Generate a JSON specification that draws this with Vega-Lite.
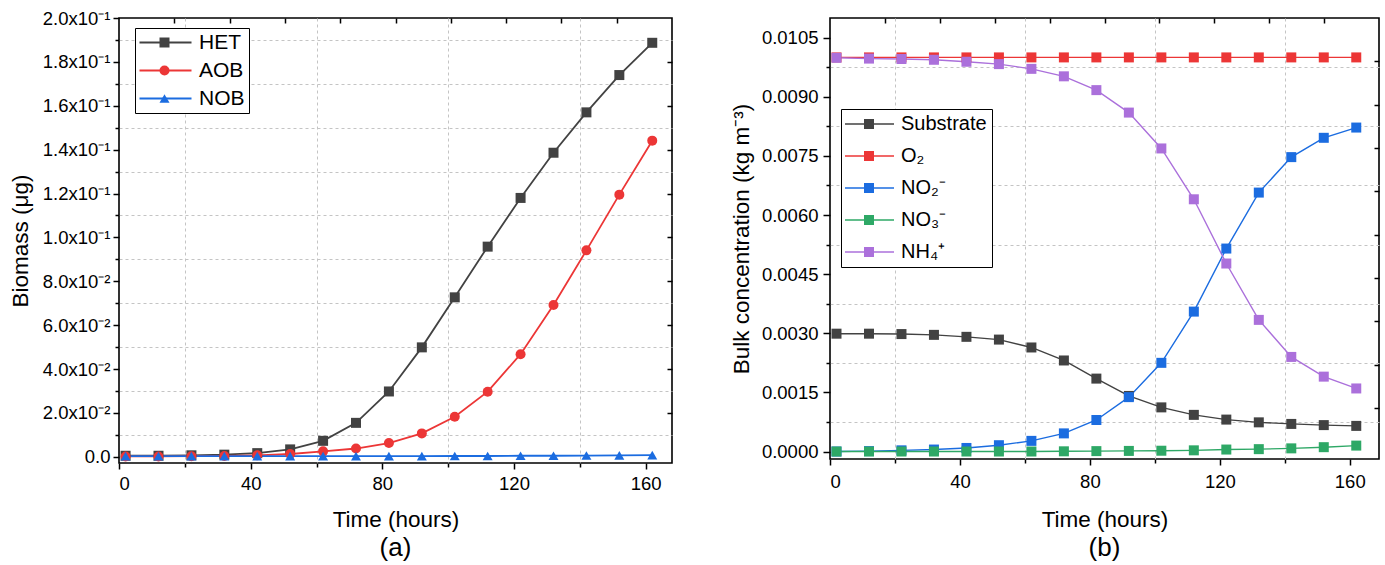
{
  "$schema": "https://vega.github.io/schema/vega-lite/v6.json",
  "padding": {"left": 8, "top": 8, "right": 0, "bottom": 0},
  "background": "white",
  "bounds": "flush",
  "spacing": 158,
  "resolve": {"scale": {"color": "independent", "shape": "independent", "size": "independent"}, "legend": {"color": "independent", "shape": "independent"}},
  "config": {
    "font": "Liberation Sans",
    "view": {"stroke": "black", "strokeWidth": 1.6},
    "axis": {"labelFont": "Liberation Sans", "titleFont": "Liberation Sans", "labelColor": "black", "titleColor": "black", "tickColor": "black", "tickWidth": 1.5, "domain": false, "grid": false, "titleFontWeight": "normal", "labelFontSize": 18.5, "titleFontSize": 22.5, "gridColor": "#c4c4c4", "gridDash": [3, 3], "gridWidth": 1},
    "legend": {"labelFont": "Liberation Sans", "labelColor": "black", "labelFontWeight": "normal"},
    "title": {"font": "Liberation Sans", "fontWeight": "normal", "color": "black"}
  },
  "datasets": {
    "bio": [
      {"s": "HET", "t": 2, "v": 0.0005}, {"s": "HET", "t": 12, "v": 0.0005}, {"s": "HET", "t": 22, "v": 0.0007}, {"s": "HET", "t": 32, "v": 0.001}, {"s": "HET", "t": 42, "v": 0.0017}, {"s": "HET", "t": 52, "v": 0.0034}, {"s": "HET", "t": 62, "v": 0.0073}, {"s": "HET", "t": 72, "v": 0.0155}, {"s": "HET", "t": 82, "v": 0.0298}, {"s": "HET", "t": 92, "v": 0.0499}, {"s": "HET", "t": 102, "v": 0.0727}, {"s": "HET", "t": 112, "v": 0.0958}, {"s": "HET", "t": 122, "v": 0.118}, {"s": "HET", "t": 132, "v": 0.1386}, {"s": "HET", "t": 142, "v": 0.157}, {"s": "HET", "t": 152, "v": 0.174}, {"s": "HET", "t": 162, "v": 0.1887},
      {"s": "AOB", "t": 2, "v": 0.0002}, {"s": "AOB", "t": 12, "v": 0.0002}, {"s": "AOB", "t": 22, "v": 0.0003}, {"s": "AOB", "t": 32, "v": 0.0004}, {"s": "AOB", "t": 42, "v": 0.0007}, {"s": "AOB", "t": 52, "v": 0.0013}, {"s": "AOB", "t": 62, "v": 0.0025}, {"s": "AOB", "t": 72, "v": 0.0038}, {"s": "AOB", "t": 82, "v": 0.0063}, {"s": "AOB", "t": 92, "v": 0.0107}, {"s": "AOB", "t": 102, "v": 0.0183}, {"s": "AOB", "t": 112, "v": 0.0297}, {"s": "AOB", "t": 122, "v": 0.0468}, {"s": "AOB", "t": 132, "v": 0.0692}, {"s": "AOB", "t": 142, "v": 0.0941}, {"s": "AOB", "t": 152, "v": 0.1195}, {"s": "AOB", "t": 162, "v": 0.1441},
      {"s": "NOB", "t": 2, "v": 0.0003}, {"s": "NOB", "t": 12, "v": 0.0003}, {"s": "NOB", "t": 22, "v": 0.0003}, {"s": "NOB", "t": 32, "v": 0.0003}, {"s": "NOB", "t": 42, "v": 0.0003}, {"s": "NOB", "t": 52, "v": 0.0003}, {"s": "NOB", "t": 62, "v": 0.0003}, {"s": "NOB", "t": 72, "v": 0.0003}, {"s": "NOB", "t": 82, "v": 0.0003}, {"s": "NOB", "t": 92, "v": 0.0003}, {"s": "NOB", "t": 102, "v": 0.0004}, {"s": "NOB", "t": 112, "v": 0.0004}, {"s": "NOB", "t": 122, "v": 0.0005}, {"s": "NOB", "t": 132, "v": 0.0005}, {"s": "NOB", "t": 142, "v": 0.0006}, {"s": "NOB", "t": 152, "v": 0.0007}, {"s": "NOB", "t": 162, "v": 0.0008}
    ],
    "bulk": [
      {"s": "Substrate", "t": 2, "v": 0.00299}, {"s": "Substrate", "t": 12, "v": 0.00299}, {"s": "Substrate", "t": 22, "v": 0.00298}, {"s": "Substrate", "t": 32, "v": 0.00296}, {"s": "Substrate", "t": 42, "v": 0.00291}, {"s": "Substrate", "t": 52, "v": 0.00284}, {"s": "Substrate", "t": 62, "v": 0.00264}, {"s": "Substrate", "t": 72, "v": 0.00231}, {"s": "Substrate", "t": 82, "v": 0.00185}, {"s": "Substrate", "t": 92, "v": 0.00141}, {"s": "Substrate", "t": 102, "v": 0.00112}, {"s": "Substrate", "t": 112, "v": 0.00093}, {"s": "Substrate", "t": 122, "v": 0.00081}, {"s": "Substrate", "t": 132, "v": 0.00074}, {"s": "Substrate", "t": 142, "v": 0.0007}, {"s": "Substrate", "t": 152, "v": 0.00067}, {"s": "Substrate", "t": 162, "v": 0.00065},
      {"s": "O₂", "t": 2, "v": 0.01}, {"s": "O₂", "t": 12, "v": 0.01}, {"s": "O₂", "t": 22, "v": 0.01}, {"s": "O₂", "t": 32, "v": 0.01}, {"s": "O₂", "t": 42, "v": 0.01}, {"s": "O₂", "t": 52, "v": 0.01}, {"s": "O₂", "t": 62, "v": 0.01}, {"s": "O₂", "t": 72, "v": 0.01}, {"s": "O₂", "t": 82, "v": 0.01}, {"s": "O₂", "t": 92, "v": 0.01}, {"s": "O₂", "t": 102, "v": 0.01}, {"s": "O₂", "t": 112, "v": 0.01}, {"s": "O₂", "t": 122, "v": 0.01}, {"s": "O₂", "t": 132, "v": 0.01}, {"s": "O₂", "t": 142, "v": 0.01}, {"s": "O₂", "t": 152, "v": 0.01}, {"s": "O₂", "t": 162, "v": 0.01},
      {"s": "NO₂⁻", "t": 2, "v": 0.0}, {"s": "NO₂⁻", "t": 12, "v": 0.00001}, {"s": "NO₂⁻", "t": 22, "v": 0.00003}, {"s": "NO₂⁻", "t": 32, "v": 0.00005}, {"s": "NO₂⁻", "t": 42, "v": 0.00009}, {"s": "NO₂⁻", "t": 52, "v": 0.00016}, {"s": "NO₂⁻", "t": 62, "v": 0.00027}, {"s": "NO₂⁻", "t": 72, "v": 0.00046}, {"s": "NO₂⁻", "t": 82, "v": 0.0008}, {"s": "NO₂⁻", "t": 92, "v": 0.00138}, {"s": "NO₂⁻", "t": 102, "v": 0.00225}, {"s": "NO₂⁻", "t": 112, "v": 0.00355}, {"s": "NO₂⁻", "t": 122, "v": 0.00515}, {"s": "NO₂⁻", "t": 132, "v": 0.00657}, {"s": "NO₂⁻", "t": 142, "v": 0.00747}, {"s": "NO₂⁻", "t": 152, "v": 0.00796}, {"s": "NO₂⁻", "t": 162, "v": 0.00822},
      {"s": "NO₃⁻", "t": 2, "v": 0.0}, {"s": "NO₃⁻", "t": 12, "v": 0.0}, {"s": "NO₃⁻", "t": 22, "v": 0.0}, {"s": "NO₃⁻", "t": 32, "v": 0.0}, {"s": "NO₃⁻", "t": 42, "v": 0.0}, {"s": "NO₃⁻", "t": 52, "v": 0.0}, {"s": "NO₃⁻", "t": 62, "v": 0.0}, {"s": "NO₃⁻", "t": 72, "v": 0.000005}, {"s": "NO₃⁻", "t": 82, "v": 0.00001}, {"s": "NO₃⁻", "t": 92, "v": 0.000015}, {"s": "NO₃⁻", "t": 102, "v": 0.00002}, {"s": "NO₃⁻", "t": 112, "v": 0.00003}, {"s": "NO₃⁻", "t": 122, "v": 0.00005}, {"s": "NO₃⁻", "t": 132, "v": 0.00006}, {"s": "NO₃⁻", "t": 142, "v": 0.00008}, {"s": "NO₃⁻", "t": 152, "v": 0.00011}, {"s": "NO₃⁻", "t": 162, "v": 0.00015},
      {"s": "NH₄⁺", "t": 2, "v": 0.00999}, {"s": "NH₄⁺", "t": 12, "v": 0.00997}, {"s": "NH₄⁺", "t": 22, "v": 0.00996}, {"s": "NH₄⁺", "t": 32, "v": 0.00994}, {"s": "NH₄⁺", "t": 42, "v": 0.00989}, {"s": "NH₄⁺", "t": 52, "v": 0.00983}, {"s": "NH₄⁺", "t": 62, "v": 0.00971}, {"s": "NH₄⁺", "t": 72, "v": 0.00952}, {"s": "NH₄⁺", "t": 82, "v": 0.00917}, {"s": "NH₄⁺", "t": 92, "v": 0.0086}, {"s": "NH₄⁺", "t": 102, "v": 0.00769}, {"s": "NH₄⁺", "t": 112, "v": 0.0064}, {"s": "NH₄⁺", "t": 122, "v": 0.00477}, {"s": "NH₄⁺", "t": 132, "v": 0.00334}, {"s": "NH₄⁺", "t": 142, "v": 0.0024}, {"s": "NH₄⁺", "t": 152, "v": 0.0019}, {"s": "NH₄⁺", "t": 162, "v": 0.0016}
    ]
  },
  "hconcat": [
    {
      "width": 553,
      "height": 445,
      "data": {"name": "bio"},
      "title": {"text": "(a)", "orient": "bottom", "fontSize": 26, "frame": "group", "offset": 4},
      "layer": [
        {
          "mark": {"type": "line", "strokeWidth": 1.8},
          "encoding": {
            "x": {"field": "t", "type": "quantitative", "scale": {"domain": [0, 168], "nice": false, "zero": false},
              "axis": {"orient": "bottom", "values": [0, 40, 80, 120, 160], "tickSize": 6, "labelPadding": 5, "title": "Time (hours)", "titlePadding": 16}},
            "y": {"field": "v", "type": "quantitative", "scale": {"domain": [-0.0028, 0.2], "nice": false, "zero": false},
              "axis": {"orient": "left", "values": [0, 0.02, 0.04, 0.06, 0.08, 0.1, 0.12, 0.14, 0.16, 0.18, 0.2], "labelExpr": "datum.value == 0 ? '0.0' : (datum.value > 0.099 ? format(datum.value * 10, '.1f') + 'x10⁻¹' : format(datum.value * 100, '.1f') + 'x10⁻²')", "tickSize": 6, "labelPadding": 3, "title": "Biomass (μg)", "titlePadding": 10}},
            "color": {"field": "s", "type": "nominal", "scale": {"domain": ["HET", "AOB", "NOB"], "range": ["#424242", "#ec3636", "#1b6ce0"]},
              "legend": {"orient": "none", "legendX": 16, "legendY": 10, "title": null, "symbolType": "M-2,0H8.4", "symbolSize": 100, "symbolStrokeWidth": 1.8, "labelFontSize": 21, "rowPadding": 6, "padding": 4, "labelOffset": 39, "strokeColor": "black", "fillColor": "white"}}
          }
        },
        {
          "mark": {"type": "point", "filled": true, "opacity": 1},
          "encoding": {
            "x": {"field": "t", "type": "quantitative", "axis": {"orient": "bottom", "values": [20, 60, 100, 140], "labels": false, "tickSize": 4, "grid": true, "title": null}},
            "y": {"field": "v", "type": "quantitative", "axis": {"orient": "left", "values": [0.01, 0.03, 0.05, 0.07, 0.09, 0.11, 0.13, 0.15, 0.17, 0.19], "labels": false, "tickSize": 4, "grid": true, "title": null}},
            "size": {"field": "s", "type": "ordinal", "scale": {"domain": ["HET", "AOB", "NOB"], "range": [100, 100, 135]}, "legend": null},
            "color": {"field": "s", "type": "nominal",
              "legend": {"orient": "none", "legendX": 31, "legendY": 10, "title": null, "symbolSize": 100, "labelFontSize": 21, "rowPadding": 6, "padding": 4, "labelExpr": "''", "symbolStrokeWidth": 0}},
            "shape": {"field": "s", "type": "nominal", "scale": {"domain": ["HET", "AOB", "NOB"], "range": ["square", "circle", "triangle-up"]},
              "legend": {"orient": "none", "legendX": 31, "legendY": 10, "title": null, "symbolSize": 100, "labelFontSize": 21, "rowPadding": 6, "padding": 4, "labelExpr": "''", "symbolStrokeWidth": 0}}
          }
        },
        {
          "mark": {"type": "point", "opacity": 0},
          "encoding": {
            "x": {"field": "t", "type": "quantitative", "axis": {"orient": "top", "values": [16.8, 33.6, 50.4, 67.2, 84, 100.8, 117.6, 134.4, 151.2], "labels": false, "tickSize": -5, "title": null}},
            "y": {"field": "v", "type": "quantitative", "axis": {"orient": "right", "values": [0.02, 0.04, 0.06, 0.08, 0.1, 0.12, 0.14, 0.16, 0.18], "labels": false, "tickSize": -5, "title": null}}
          }
        }
      ],
      "resolve": {"axis": {"x": "independent", "y": "independent"}, "legend": {"color": "independent", "shape": "independent"}}
    },
    {
      "width": 549,
      "height": 441,
      "data": {"name": "bulk"},
      "title": {"text": "(b)", "orient": "bottom", "fontSize": 26, "frame": "group", "offset": 4},
      "layer": [
        {
          "mark": {"type": "line", "strokeWidth": 1.4},
          "encoding": {
            "x": {"field": "t", "type": "quantitative", "scale": {"domain": [0, 169], "nice": false, "zero": false},
              "axis": {"orient": "bottom", "values": [0, 40, 80, 120, 160], "tickSize": 6, "labelPadding": 7, "title": "Time (hours)", "titlePadding": 18}},
            "y": {"field": "v", "type": "quantitative", "scale": {"domain": [-0.00019, 0.011], "nice": false, "zero": false},
              "axis": {"orient": "left", "values": [0, 0.0015, 0.003, 0.0045, 0.006, 0.0075, 0.009, 0.0105], "format": ".4f", "tickSize": 7, "labelPadding": 5, "title": "Bulk concentration (kg m⁻³)", "titlePadding": 8}},
            "color": {"field": "s", "type": "nominal", "scale": {"domain": ["Substrate", "O₂", "NO₂⁻", "NO₃⁻", "NH₄⁺"], "range": ["#424242", "#ec3636", "#1b6ce0", "#2ea866", "#ab70db"]},
              "legend": {"orient": "none", "legendX": 11, "legendY": 91, "title": null, "symbolType": "M-2.2,0H7.6", "symbolSize": 100, "symbolStrokeWidth": 1.4, "labelFontSize": 20, "rowPadding": 12, "padding": 5, "labelOffset": 35, "strokeColor": "black", "fillColor": "white"}}
          }
        },
        {
          "mark": {"type": "point", "filled": true, "opacity": 1, "size": 100, "shape": "square"},
          "encoding": {
            "x": {"field": "t", "type": "quantitative", "axis": {"orient": "bottom", "values": [20, 60, 100, 140], "labels": false, "tickSize": 4, "grid": true, "title": null}},
            "y": {"field": "v", "type": "quantitative", "axis": {"orient": "left", "values": [0.00075, 0.00225, 0.00375, 0.00525, 0.00675, 0.00825, 0.00975], "labels": false, "tickSize": 4, "grid": true, "title": null}},
            "color": {"field": "s", "type": "nominal",
              "legend": {"orient": "none", "legendX": 24, "legendY": 91, "title": null, "symbolType": "square", "symbolSize": 100, "labelFontSize": 20, "rowPadding": 12, "padding": 5, "labelExpr": "''", "symbolStrokeWidth": 0}}
          }
        },
        {
          "mark": {"type": "point", "opacity": 0},
          "encoding": {
            "x": {"field": "t", "type": "quantitative", "axis": {"orient": "top", "values": [16.9, 33.8, 50.7, 67.6, 84.5, 101.4, 118.3, 135.2, 152.1], "labels": false, "tickSize": -5, "title": null}},
            "y": {"field": "v", "type": "quantitative", "axis": {"orient": "right", "values": [0.0011, 0.0022, 0.0033, 0.0044, 0.0055, 0.0066, 0.0077, 0.0088, 0.0099], "labels": false, "tickSize": -5, "title": null}}
          }
        }
      ],
      "resolve": {"axis": {"x": "independent", "y": "independent"}, "legend": {"color": "independent"}}
    }
  ]
}
